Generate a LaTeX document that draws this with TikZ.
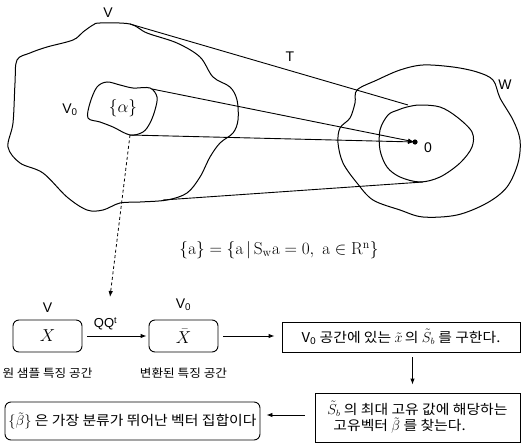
\documentclass[tikz,border=0pt]{standalone}
\usepackage[no-math]{fontspec}
\usepackage{amsmath, amssymb}
\setmainfont{Liberation Sans}
\newfontfamily\kor[FakeStretch=1.1]{Noto Sans CJK KR}
\usetikzlibrary{arrows.meta, positioning}

\begin{document}
\begin{tikzpicture}[>={Latex[length=6pt, width=4.5pt]}, x=1pt, y=-1pt,
    blob/.style={line width=1pt},
    lab/.style={font=\fontsize{14}{16}\selectfont, inner sep=1pt},
    rbox/.style={draw, line width=0.9pt, rounded corners=6pt, minimum width=69pt, minimum height=32pt},
    sbox/.style={draw, line width=0.9pt, align=left, inner sep=2pt, font=\kor\fontsize{13.5}{15}\selectfont},
    klab/.style={font=\kor\fontsize{11.5}{13}\selectfont}]
    \useasboundingbox (0,0) rectangle (521,444);

    % 1. Không gian V và V_0
    \draw[blob] plot[smooth cycle, tension=0.55] coordinates {
        (100,23) (130,24) (147,33) (177,43) (200,57) (213,77) (230,87) (237,100)
        (238,120) (233,133) (220,143) (210,157) (200,177) (187,193) (167,200)
        (140,202) (120,203) (103,210) (87,210) (67,197) (43,173) (20,163)
        (8,147) (13,123) (15,83) (17,60) (30,53) (47,47) (73,40) (83,32) (93,25)};
    \draw[blob] plot[smooth cycle, tension=0.55] coordinates {
        (88,118) (90,103) (97,87) (107,82) (120,85) (133,88) (150,88) (157,97)
        (155,110) (150,123) (143,132) (130,135) (113,127) (100,122)};

    % 2. Không gian W
    \draw[blob] plot[smooth cycle, tension=0.55] coordinates {
        (357,90) (377,80) (400,70) (423,65) (453,67) (477,72) (493,80) (500,98)
        (513,120) (520,140) (518,163) (507,187) (487,203) (457,215) (423,217)
        (400,210) (373,200) (357,183) (343,163) (338,143) (340,128) (350,118) (355,103)};
    \draw[blob] plot[smooth cycle, tension=0.55] coordinates {
        (407,107) (420,105) (440,107) (457,117) (472,132) (472,147) (460,163)
        (440,177) (420,182) (400,177) (387,167) (380,150) (380,130) (388,115) (398,110)};

    % 3. Ánh xạ T
    \coordinate (vtop) at (130,24);
    \coordinate (vbot) at (163,200);
    \coordinate (atop) at (152,89);
    \coordinate (abot) at (130,135);
    \coordinate (wtop) at (408,105);
    \coordinate (wbot) at (423,182);
    \coordinate (zero) at (415,142);
    \coordinate (qq) at (110,297);
    \draw[line width=0.9pt] (vtop) -- (wtop);
    \draw[line width=0.9pt] (vbot) -- (wbot);
    \draw[->, line width=0.9pt, shorten >=1pt] (atop) -- (zero);
    \draw[->, line width=0.9pt, shorten >=1pt] (abot) -- (zero);
    \fill (zero) circle (2.6pt);
    \draw[->, line width=0.8pt, dash pattern=on 3pt off 2.5pt] (abot) -- (qq);

    % 4. Nhãn
    \node[lab] (lv) at (108,13) {V};
    \node[lab] (lt) at (290,57) {T};
    \node[lab] (lw) at (505,85) {W};
    \node[lab] (lvo) at (70,110) {V\textsubscript{0}};
    \node[lab, font=\fontsize{16}{18}\selectfont] (lalpha) at (123,108) {$\{\alpha\}$};
    \node[lab] (lzero) at (428,148) {0};
    \node[font=\fontsize{17}{20}\selectfont] (eq) at (279,250)
        {$\{\mathrm{a}\}=\{\mathrm{a}\,|\,\mathrm{S_{w}a}=0,\ \mathrm{a}\in\mathrm{R^{n}}\}$};

    % 5. Sơ đồ các bước
    \node[rbox, font=\fontsize{17}{19}\selectfont] (xbox) at (47.5,336) {$X$};
    \node[rbox, font=\fontsize{17}{19}\selectfont] (xbar) at (183.5,336) {$\bar{X}$};
    \node[sbox, minimum width=238pt, minimum height=30pt] (sb) at (401,337)
        {V\textsubscript{0} 공간에 있는 $\tilde{x}$\,의 $\tilde{S}_b$ 를 구한다.};
    \node[sbox, minimum width=205pt, minimum height=49pt] (beta) at (417.5,417.5)
        {$\tilde{S}_b$ 의 최대 고유 값에 해당하는\\\hspace{6pt}고유벡터 $\tilde{\beta}$ 를 찾는다.};
    \node[sbox, rounded corners=6pt, minimum width=255pt, minimum height=38pt] (best) at (132.5,421)
        {$\{\tilde{\beta}\}$ 은 가장 분류가 뛰어난 벡터 집합이다};

    \node[lab, above=6pt of xbox] (lv2) {V};
    \node[lab, above=8pt of xbar] (lvo2) {V\textsubscript{0}};
    \node[klab, below=12pt of xbox] (korig) {원 샘플 특징 공간};
    \node[klab, below=12pt of xbar] (ktrans) {변환된 특징 공간};

    \draw[->, line width=0.9pt, shorten <=5pt, shorten >=2pt] (xbox) -- node[pos=0.35, above=2pt, font=\fontsize{13}{15}\selectfont] (lqq) {QQ\textsuperscript{t}} (xbar);
    \draw[->, line width=0.9pt, shorten <=5pt, shorten >=7pt] (xbar) -- (sb.west |- xbar);
    \draw[->, line width=0.9pt, shorten <=5pt, shorten >=8pt] ([xshift=-5pt]beta.north |- sb.south) -- ([xshift=-5pt]beta.north);
    \draw[->, line width=0.9pt, shorten <=10pt, shorten >=6pt] (beta.west |- 0,415) -- (best.east |- 0,415);
\end{tikzpicture}
\end{document}
